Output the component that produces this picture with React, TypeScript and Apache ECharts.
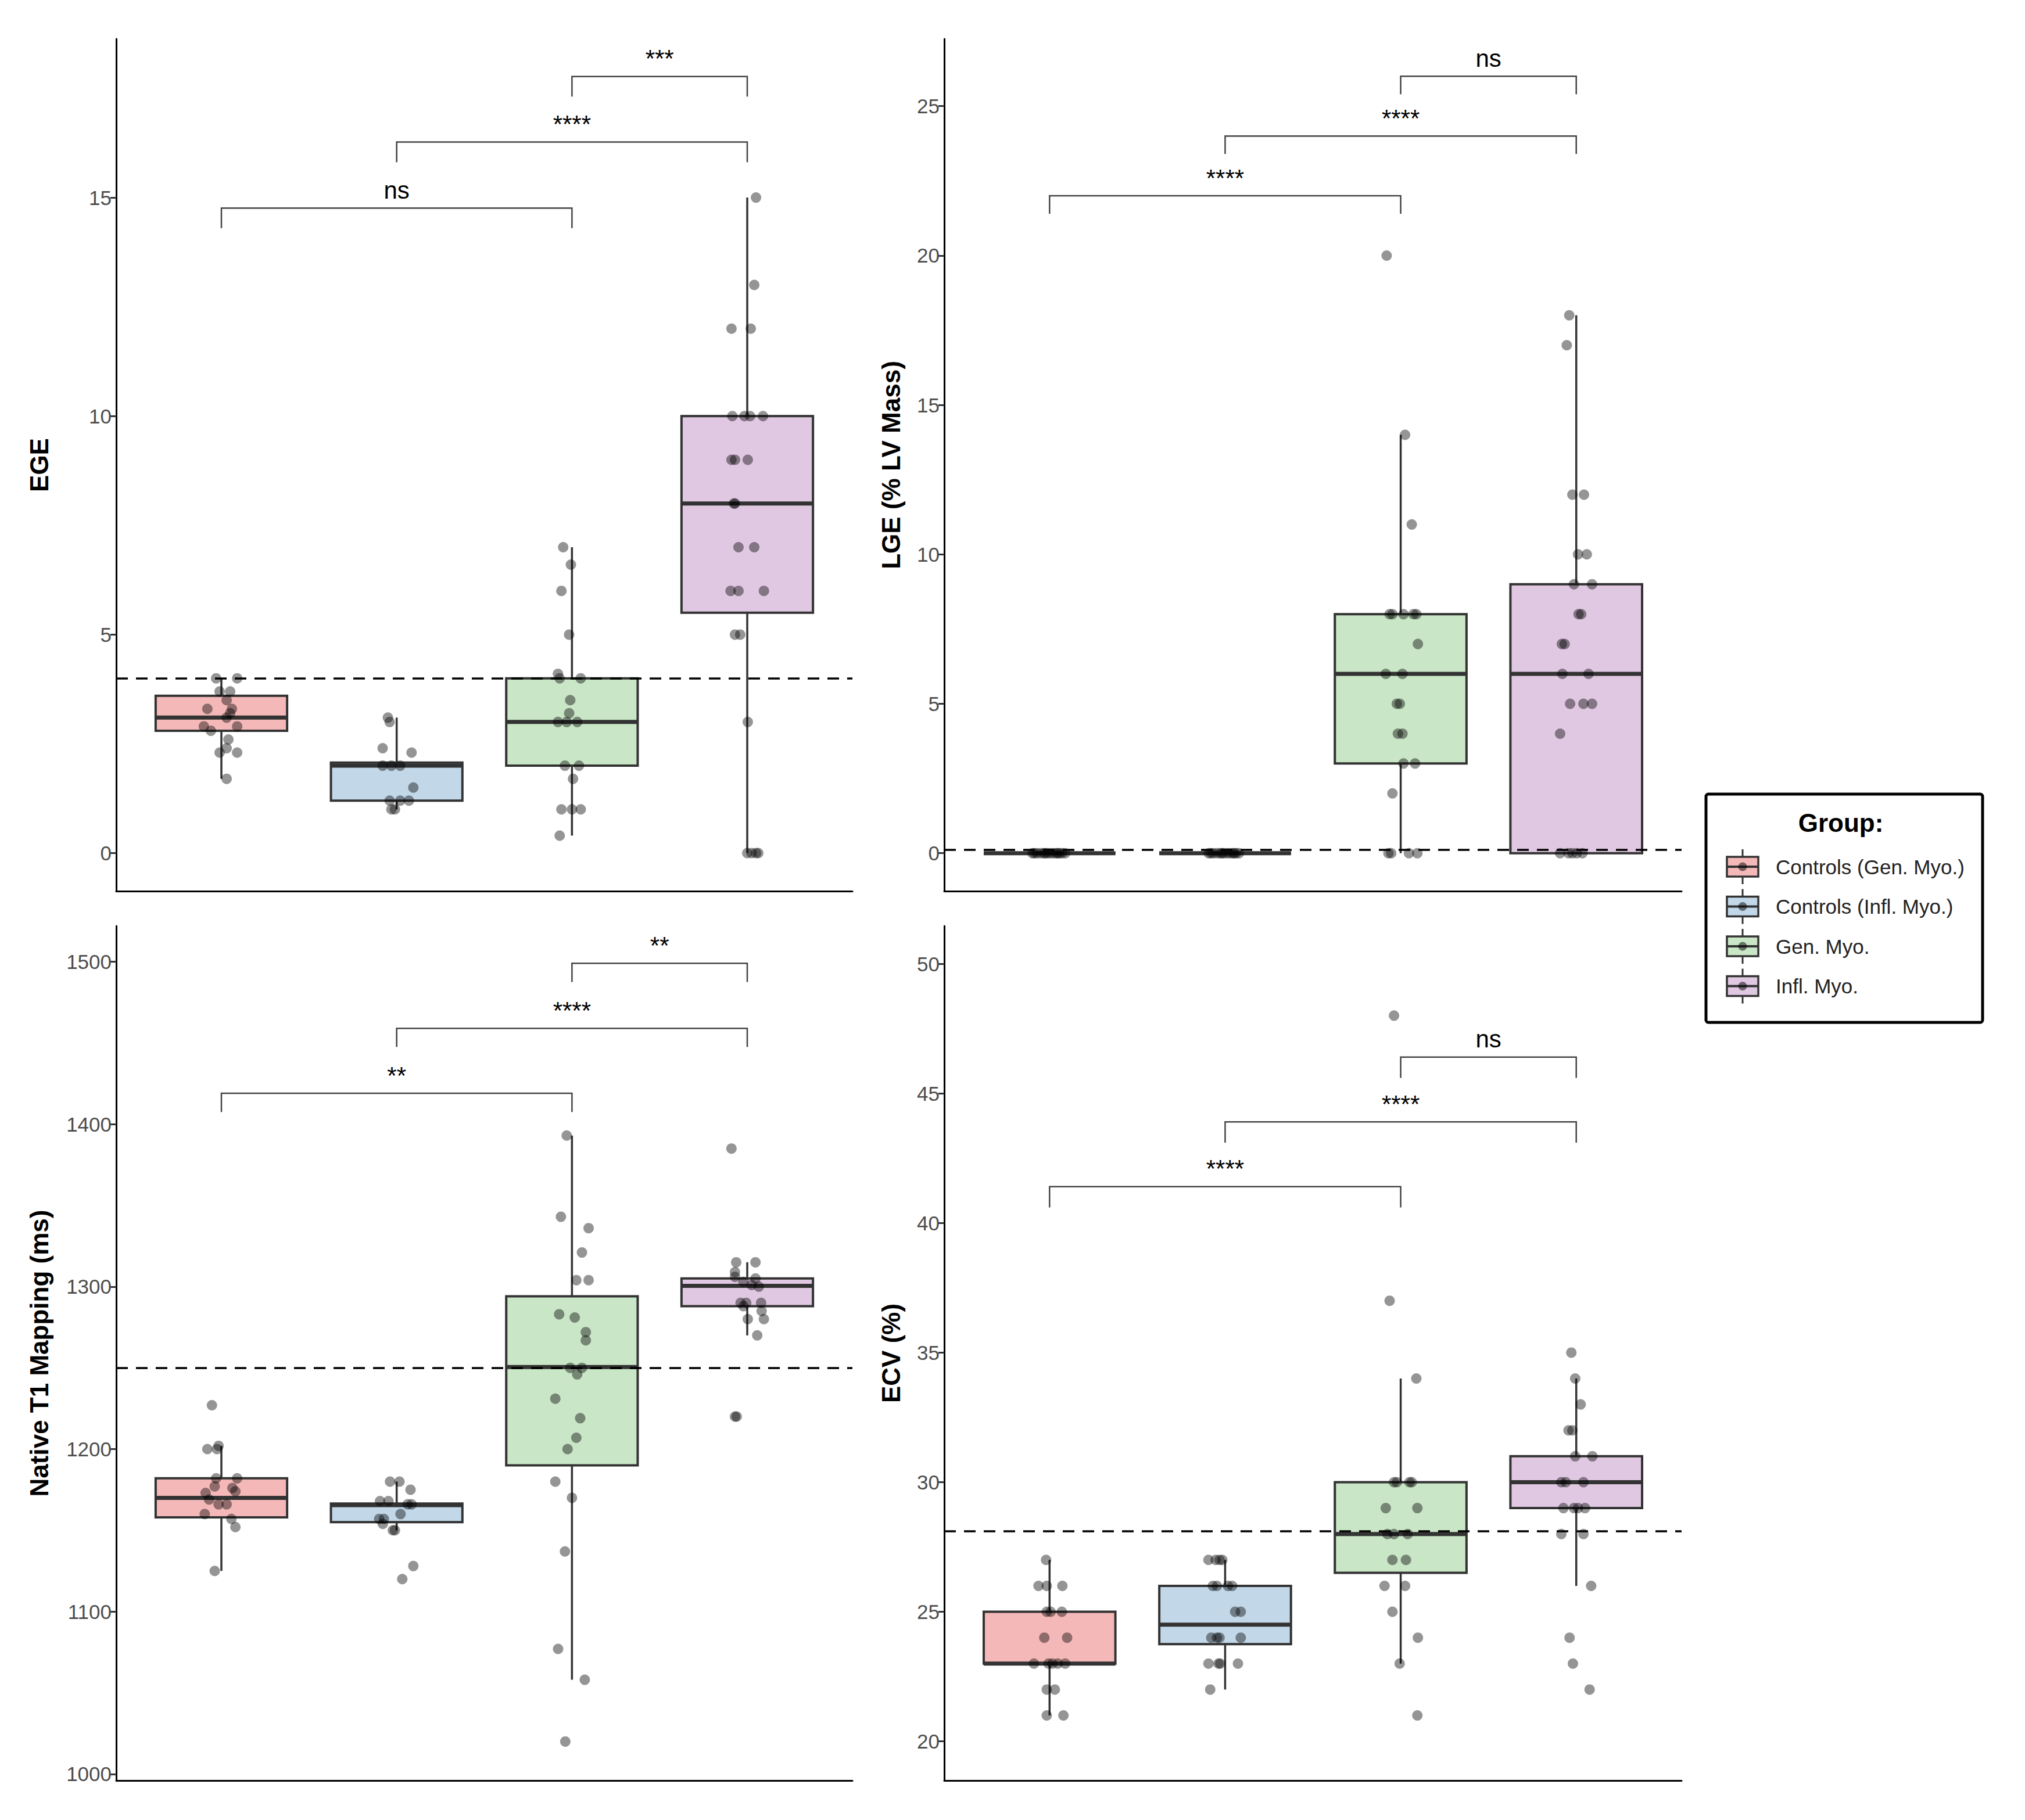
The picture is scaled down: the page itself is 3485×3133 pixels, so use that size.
import React, { useEffect, useRef } from 'react';
import * as echarts from 'echarts';

const FONT = '"Liberation Sans", Arial, Helvetica, sans-serif';

// ---------- groups ----------
const groupNames = ['Controls (Gen. Myo.)', 'Controls (Infl. Myo.)', 'Gen. Myo.', 'Infl. Myo.'];
const groupFills = ['#F5B8B8', '#C2D8E9', '#C9E6C6', '#E0C8E2'];

// ---------- EGE ----------
const egeTitle = 'EGE';
const egeRange = [-0.87, 18.63];
const egeTicks = [0, 5, 10, 15];
// [lower whisker, q1, median, q3, upper whisker]
const egeBoxStats = [
  [1.7, 2.8, 3.1, 3.6, 4.0],
  [1.0, 1.2, 2.0, 2.07, 3.1],
  [0.4, 2.0, 3.0, 4.0, 7.0],
  [0, 5.5, 8, 10, 15],
];
// [jitter offset, value]
const egeCtrlGen = [[-0.03, 4.0], [0.09, 4.0], [-0.01, 3.7], [0.05, 3.7], [0.03, 3.5], [-0.08, 3.3], [0.06, 3.3], [0.03, 3.1], [0.05, 3.2], [-0.1, 2.9], [0.09, 2.9], [-0.06, 2.8], [0.04, 2.6], [0.03, 2.4], [-0.01, 2.3], [0.09, 2.3], [0.03, 1.7]];
const egeCtrlInfl = [[-0.05, 3.1], [-0.04, 3.0], [-0.08, 2.4], [0.085, 2.3], [-0.08, 2.0], [-0.03, 2.0], [0.02, 2.0], [0.095, 1.5], [-0.04, 1.2], [0.02, 1.2], [0.07, 1.2], [-0.03, 1.0], [-0.01, 1.0]];
const egeGen = [[-0.05, 7.0], [-0.006, 6.6], [-0.06, 6.0], [-0.016, 5.0], [-0.08, 4.1], [-0.07, 4.0], [0.05, 4.0], [-0.01, 3.5], [-0.016, 3.2], [-0.08, 3.0], [-0.03, 3.0], [0.03, 3.0], [-0.04, 2.0], [0.04, 2.0], [0.006, 1.7], [-0.06, 1.0], [0, 1.0], [0.05, 1.0], [-0.07, 0.4]];
const egeInfl = [[0.05, 15], [0.04, 13], [-0.09, 12], [0.02, 12], [-0.085, 10], [-0.016, 10], [0.016, 10], [0.09, 10], [-0.09, 9], [-0.07, 9], [0.003, 9], [-0.076, 8], [-0.07, 8], [-0.05, 7], [0.04, 7], [-0.095, 6], [-0.05, 6], [0.095, 6], [-0.07, 5], [-0.04, 5], [0.003, 3], [0, 0], [0.025, 0], [0.05, 0], [0.063, 0]];
const egeRef = 4.0;
const egeBrackets = [[1, 3, 14.76], [2, 4, 16.27], [3, 4, 17.77]];
const egeBracketLabels = ['ns', '****', '***'];
const egeTip = 0.46;

// ---------- LGE ----------
const lgeTitle = 'LGE (% LV Mass)';
const lgeRange = [-1.27, 27.25];
const lgeTicks = [0, 5, 10, 15, 20, 25];
const lgeBoxStats = [
  [0, 0, 0, 0, 0],
  [0, 0, 0, 0, 0],
  [0, 3, 6, 8, 14],
  [0, 0, 6, 9, 18],
];
const lgeCtrlGen = [[-0.098, 0], [-0.072, 0], [-0.051, 0], [-0.033, 0], [-0.012, 0], [0.004, 0], [0.021, 0], [0.038, 0], [0.057, 0], [0.071, 0], [0.089, 0], [-0.086, 0], [0.046, 0], [-0.024, 0]];
const lgeCtrlInfl = [[-0.094, 0], [-0.068, 0], [-0.047, 0], [-0.029, 0], [-0.008, 0], [0.011, 0], [0.027, 0], [0.043, 0], [0.062, 0], [0.079, 0], [-0.081, 0], [0.052, 0], [-0.018, 0]];
const lgeGen = [[-0.08, 20], [0.025, 14], [0.063, 11], [-0.063, 8], [-0.047, 8], [0.016, 8], [0.073, 8], [0.089, 8], [0.098, 7], [-0.085, 6], [0.01, 6], [-0.022, 5], [-0.005, 5], [-0.016, 4], [0.01, 4], [0.016, 3], [0.082, 3], [-0.047, 2], [-0.07, 0], [-0.054, 0], [0.047, 0], [0.095, 0]];
const lgeInfl = [[-0.04, 18], [-0.054, 17], [-0.022, 12], [0.044, 12], [0.01, 10], [0.06, 10], [-0.013, 9], [0.09, 9], [0.013, 8], [0.028, 8], [-0.082, 7], [-0.066, 7], [-0.079, 6], [0.07, 6], [-0.035, 5], [0.041, 5], [0.09, 5], [-0.092, 4], [-0.092, 0], [-0.044, 0], [-0.022, 0], [0.003, 0], [0.035, 0]];
const lgeRef = 0.12;
const lgeBrackets = [[1, 3, 22.0], [2, 4, 24.0], [3, 4, 26.0]];
const lgeBracketLabels = ['****', '****', 'ns'];
const lgeTip = 0.6;

// ---------- Native T1 ----------
const t1Title = 'Native T1 Mapping (ms)';
const t1Range = [996, 1522];
const t1Ticks = [1000, 1100, 1200, 1300, 1400, 1500];
const t1BoxStats = [
  [1125, 1158, 1170, 1182, 1202],
  [1150, 1155, 1165.5, 1166.5, 1180],
  [1058, 1190, 1250.5, 1294, 1393],
  [1270, 1288, 1300.5, 1305, 1315],
];
const t1CtrlGen = [[-0.054, 1227], [-0.08, 1200], [-0.025, 1200], [-0.016, 1202], [-0.03, 1182], [0.09, 1182], [-0.038, 1177], [0.063, 1176], [-0.09, 1173], [0.08, 1174], [-0.07, 1169], [-0.016, 1166], [0.03, 1166], [-0.095, 1160], [0.057, 1157], [0.08, 1152], [-0.038, 1125]];
const t1CtrlInfl = [[-0.038, 1180], [0.016, 1180], [0.079, 1175], [-0.095, 1168], [-0.047, 1168], [0.085, 1166], [0.063, 1166], [0.022, 1160], [-0.1, 1157], [-0.073, 1157], [-0.079, 1154], [-0.022, 1150], [-0.01, 1150], [0.095, 1128], [0.032, 1120]];
const t1Gen = [[-0.03, 1393], [-0.063, 1343], [0.095, 1336], [0.057, 1321], [0.025, 1304], [0.095, 1304], [-0.073, 1283], [0.016, 1281], [0.079, 1272], [0.079, 1267], [-0.01, 1250], [0.057, 1250], [0.03, 1246], [-0.095, 1231], [0.047, 1219], [0.025, 1207], [-0.025, 1200], [-0.095, 1180], [0, 1170], [-0.04, 1137], [-0.079, 1077], [0.073, 1058], [-0.038, 1020]];
const t1Infl = [[-0.09, 1385], [-0.063, 1315], [0.047, 1315], [-0.07, 1309], [-0.07, 1306], [0.047, 1305], [-0.022, 1303], [0.025, 1301], [0.066, 1300], [-0.038, 1290], [-0.006, 1290], [0.079, 1290], [-0.022, 1288], [0.082, 1285], [0.003, 1280], [0.095, 1280], [0.057, 1270], [-0.07, 1220], [-0.06, 1220]];
const t1Ref = 1250;
const t1Brackets = [[1, 3, 1419], [2, 4, 1459], [3, 4, 1499]];
const t1BracketLabels = ['**', '****', '**'];
const t1Tip = 11.5;

// ---------- ECV ----------
const ecvTitle = 'ECV (%)';
const ecvRange = [18.49, 51.46];
const ecvTicks = [20, 25, 30, 35, 40, 45, 50];
const ecvBoxStats = [
  [21, 23, 23, 25, 27],
  [22, 23.75, 24.5, 26, 27],
  [23, 26.5, 28, 30, 34],
  [26, 29, 30, 31, 34],
];
const ecvCtrlGen = [[-0.02, 27], [-0.063, 26], [-0.016, 26], [0.073, 26], [-0.016, 25], [0.006, 25], [0.07, 25], [-0.03, 24], [0.1, 24], [-0.089, 23], [-0.006, 23], [0.016, 23], [0.047, 23], [0.089, 23], [-0.016, 22], [0.03, 22], [-0.016, 21], [0.079, 21]];
const ecvCtrlInfl = [[-0.095, 27], [-0.054, 27], [-0.032, 27], [-0.016, 27], [-0.07, 26], [-0.047, 26], [0.016, 26], [0.04, 26], [0.057, 25], [0.089, 25], [-0.079, 24], [-0.047, 24], [-0.032, 24], [0.089, 24], [-0.095, 23], [-0.038, 23], [-0.028, 23], [0.073, 23], [-0.085, 22]];
const ecvGen = [[-0.038, 48], [-0.063, 37], [0.089, 34], [-0.038, 30], [-0.022, 30], [0.05, 30], [0.063, 30], [-0.085, 29], [0.095, 29], [-0.076, 28], [-0.038, 28], [0.04, 28], [-0.047, 27], [0.03, 27], [-0.092, 26], [0.025, 26], [-0.047, 25], [0.098, 24], [-0.006, 23], [0.095, 21]];
const ecvInfl = [[-0.028, 35], [-0.006, 34], [0.025, 33], [-0.044, 32], [-0.022, 32], [-0.006, 31], [0.092, 31], [-0.085, 30], [-0.06, 30], [0.041, 30], [-0.073, 29], [-0.013, 29], [0.01, 29], [0.05, 29], [-0.085, 28], [0.041, 28], [0.085, 26], [-0.038, 24], [-0.019, 23], [0.076, 22]];
const ecvRef = 28.1;
const ecvBrackets = [[1, 3, 41.4], [2, 4, 43.9], [3, 4, 46.4]];
const ecvBracketLabels = ['****', '****', 'ns'];
const ecvTip = 0.8;

// ---------- layout ----------
const GRIDS = [
  { left: 200, top: 67, width: 1267, height: 1467, titleX: 67 },
  { left: 1625, top: 67, width: 1269, height: 1467, titleX: 1533 },
  { left: 200, top: 1594, width: 1267, height: 1471, titleX: 67 },
  { left: 1625, top: 1594, width: 1269, height: 1471, titleX: 1533 },
];

const BOX_W = 0.75;
const LINE = '#333333';

function buildOption() {
  const panels = [
    { title: egeTitle, range: egeRange, ticks: egeTicks, boxes: egeBoxStats, points: [egeCtrlGen, egeCtrlInfl, egeGen, egeInfl], ref: egeRef, brackets: egeBrackets, labels: egeBracketLabels, tip: egeTip },
    { title: lgeTitle, range: lgeRange, ticks: lgeTicks, boxes: lgeBoxStats, points: [lgeCtrlGen, lgeCtrlInfl, lgeGen, lgeInfl], ref: lgeRef, brackets: lgeBrackets, labels: lgeBracketLabels, tip: lgeTip },
    { title: t1Title, range: t1Range, ticks: t1Ticks, boxes: t1BoxStats, points: [t1CtrlGen, t1CtrlInfl, t1Gen, t1Infl], ref: t1Ref, brackets: t1Brackets, labels: t1BracketLabels, tip: t1Tip },
    { title: ecvTitle, range: ecvRange, ticks: ecvTicks, boxes: ecvBoxStats, points: [ecvCtrlGen, ecvCtrlInfl, ecvGen, ecvInfl], ref: ecvRef, brackets: ecvBrackets, labels: ecvBracketLabels, tip: ecvTip },
  ];

  const boxRender = (params: any, api: any) => {
    const x = api.value(0);
    const lo = api.value(1), q1 = api.value(2), med = api.value(3), q3 = api.value(4), hi = api.value(5);
    const g = api.value(6);
    const half = api.size([BOX_W, 0])[0] / 2;
    const pLo = api.coord([x, lo]);
    const pQ1 = api.coord([x, q1]);
    const pMed = api.coord([x, med]);
    const pQ3 = api.coord([x, q3]);
    const pHi = api.coord([x, hi]);
    return {
      type: 'group',
      children: [
        { type: 'line', shape: { x1: pLo[0], y1: pLo[1], x2: pQ1[0], y2: pQ1[1] }, style: { stroke: LINE, lineWidth: 3.5 } },
        { type: 'line', shape: { x1: pQ3[0], y1: pQ3[1], x2: pHi[0], y2: pHi[1] }, style: { stroke: LINE, lineWidth: 3.5 } },
        { type: 'rect', shape: { x: pQ3[0] - half, y: pQ3[1], width: half * 2, height: Math.max(pQ1[1] - pQ3[1], 0) }, style: { fill: groupFills[g], stroke: LINE, lineWidth: 4 } },
        { type: 'line', shape: { x1: pMed[0] - half, y1: pMed[1], x2: pMed[0] + half, y2: pMed[1] }, style: { stroke: LINE, lineWidth: 7 } },
      ],
    };
  };

  const makeBracketRender = (labels: string[]) => (params: any, api: any) => {
    const x1 = api.value(0), x2 = api.value(1), y = api.value(2), tip = api.value(3);
    const a = api.coord([x1, y - tip]);
    const b = api.coord([x1, y]);
    const c = api.coord([x2, y]);
    const d = api.coord([x2, y - tip]);
    return {
      type: 'group',
      children: [
        { type: 'polyline', shape: { points: [a, b, c, d] }, style: { stroke: '#444444', lineWidth: 2.5, fill: 'none' } },
        {
          type: 'text',
          x: (b[0] + c[0]) / 2,
          y: b[1] - 10,
          style: {
            text: labels[params.dataIndex],
            fontSize: 42,
            fontFamily: FONT,
            fill: '#000000',
            align: 'center',
            verticalAlign: 'bottom',
            textAlign: 'center',
            textVerticalAlign: 'bottom',
          },
        },
      ],
    };
  };

  const series: any[] = [];
  panels.forEach((p, i) => {
    series.push({
      type: 'custom',
      xAxisIndex: i,
      yAxisIndex: i,
      z: 2,
      renderItem: boxRender,
      encode: { x: 0, y: [1, 2, 3, 4, 5] },
      data: p.boxes.map((b, g) => [g + 1, b[0], b[1], b[2], b[3], b[4], g]),
      silent: true,
    });
    series.push({
      type: 'scatter',
      xAxisIndex: i,
      yAxisIndex: i,
      z: 3,
      symbol: 'circle',
      symbolSize: 18,
      itemStyle: { color: 'rgba(0,0,0,0.52)', borderWidth: 0 },
      data: p.points.flatMap((pts, g) => pts.map(([o, v]) => [g + 1 + o, v])),
      silent: true,
    });
    series.push({
      type: 'custom',
      xAxisIndex: i,
      yAxisIndex: i,
      z: 5,
      renderItem: makeBracketRender(p.labels),
      encode: { x: [0, 1], y: 2 },
      data: p.brackets.map((br) => [br[0], br[1], br[2], p.tip]),
      silent: true,
      markLine: {
        silent: true,
        symbol: ['none', 'none'],
        label: { show: false },
        lineStyle: { type: [20, 14], color: '#000000', width: 3.5 },
        data: [{ yAxis: p.ref }],
      },
    });
  });

  const graphics: any[] = [];
  panels.forEach((p, i) => {
    const G = GRIDS[i];
    graphics.push({
      type: 'text',
      x: G.titleX,
      y: G.top + G.height / 2,
      rotation: Math.PI / 2,
      style: {
        text: p.title,
        fontSize: 44,
        fontWeight: 'bold',
        fontFamily: FONT,
        fill: '#000000',
        align: 'center',
        verticalAlign: 'middle',
        textAlign: 'center',
        textVerticalAlign: 'middle',
      },
    });
  });

  // legend
  const LX = 2936, LY = 1367, LW = 476, LH = 393;
  graphics.push({ type: 'rect', shape: { x: LX, y: LY, width: LW, height: LH, r: 4 }, style: { fill: '#ffffff', stroke: '#000000', lineWidth: 5 } });
  graphics.push({
    type: 'text', x: 3168, y: 1416,
    style: { text: 'Group:', fontSize: 44, fontWeight: 'bold', fontFamily: FONT, fill: '#000000', align: 'center', verticalAlign: 'middle', textAlign: 'center', textVerticalAlign: 'middle' },
  });
  groupNames.forEach((name, g) => {
    const cy = 1492 + g * 68.5;
    const cx = 2999;
    graphics.push({ type: 'line', shape: { x1: cx, y1: cy - 30, x2: cx, y2: cy + 30 }, style: { stroke: LINE, lineWidth: 3 } });
    graphics.push({ type: 'rect', shape: { x: cx - 27, y: cy - 17, width: 54, height: 34 }, style: { fill: groupFills[g], stroke: LINE, lineWidth: 3.5 } });
    graphics.push({ type: 'line', shape: { x1: cx - 27, y1: cy, x2: cx + 27, y2: cy }, style: { stroke: LINE, lineWidth: 4 } });
    graphics.push({ type: 'circle', shape: { cx, cy, r: 7.5 }, style: { fill: 'rgba(0,0,0,0.5)' } });
    graphics.push({
      type: 'text', x: 3056, y: cy,
      style: { text: name, fontSize: 35, fontFamily: FONT, fill: '#222222', align: 'left', verticalAlign: 'middle', textAlign: 'left', textVerticalAlign: 'middle' },
    });
  });

  return {
    animation: false,
    backgroundColor: '#ffffff',
    grid: GRIDS.map((G) => ({ left: G.left, top: G.top, width: G.width, height: G.height, containLabel: false, outerBoundsMode: 'none' })),
    xAxis: panels.map((p, i) => ({
      type: 'value',
      gridIndex: i,
      min: 0.4,
      max: 4.6,
      axisLine: { show: true, onZero: false, lineStyle: { color: '#000000', width: 3 } },
      axisTick: { show: false },
      axisLabel: { show: false },
      splitLine: { show: false },
    })),
    yAxis: panels.map((p, i) => ({
      type: 'value',
      gridIndex: i,
      min: p.range[0],
      max: p.range[1],
      axisLine: { show: true, onZero: false, lineStyle: { color: '#000000', width: 3 } },
      axisTick: { show: true, length: 10, lineStyle: { color: '#333333', width: 3 }, customValues: p.ticks },
      axisLabel: {
        show: true,
        customValues: p.ticks,
        formatter: (v: number) => String(v),
        fontSize: 35,
        color: '#4d4d4d',
        fontFamily: FONT,
        margin: 8,
      },
      splitLine: { show: false },
    })),
    series,
    graphic: { elements: graphics },
  };
}

export default function App() {
  const ref = useRef<HTMLDivElement>(null);
  useEffect(() => {
    if (!ref.current) return;
    const chart = echarts.init(ref.current, null, { renderer: 'svg' });
    chart.setOption(buildOption() as any);
    return () => chart.dispose();
  }, []);
  return (
    <div
      ref={ref}
      style={{ position: 'fixed', left: 0, top: 0, width: 3485, height: 3133, background: '#ffffff' }}
    />
  );
}
